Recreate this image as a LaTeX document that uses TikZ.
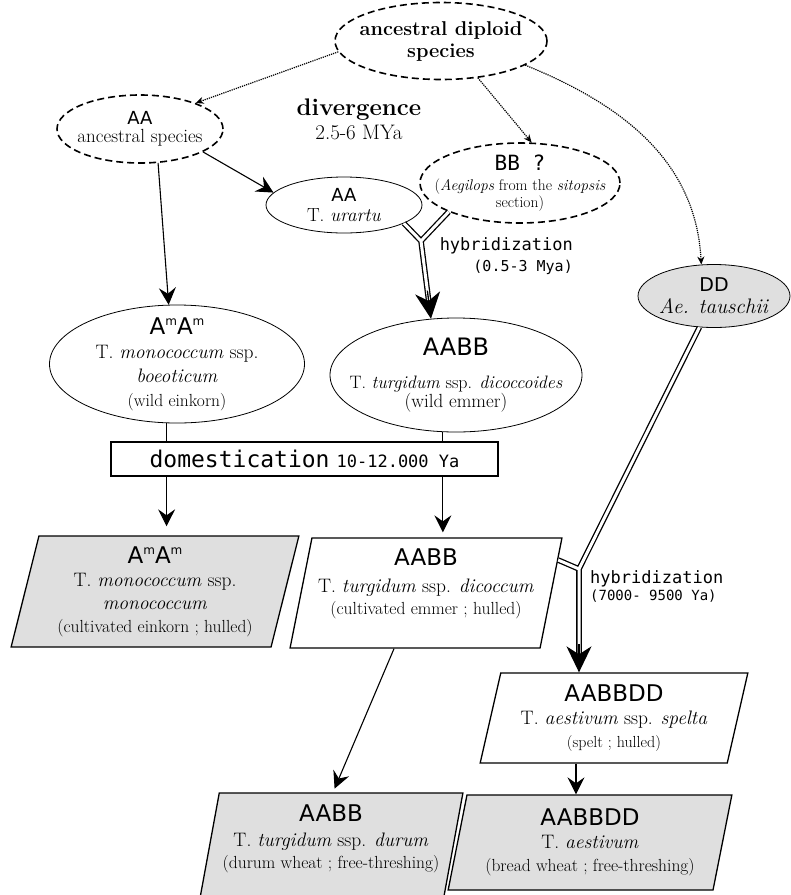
\documentclass[tikz,border=0pt]{standalone}
\usepackage{fontspec}
\newfontfamily\gsans{DejaVu Sans}
\newfontfamily\gmono{DejaVu Sans Mono}
\usetikzlibrary{positioning,shapes.geometric,arrows.meta,backgrounds}

\newcommand{\genome}[2][23]{{\gsans\fontsize{#1}{#1}\selectfont #2}}
\newcommand{\Am}{A\raisebox{9pt}{\fontsize{12}{12}\selectfont m}}
\newcommand{\habit}[2][17.5]{{\fontsize{#1}{#1}\selectfont #2}}

\tikzstyle{ancsp}    = [ellipse, draw, line width=1.6pt, dash pattern=on 7pt off 4pt,
                        align=center, inner xsep=-30pt, inner ysep=-12pt]
\tikzstyle{wildsp}   = [ellipse, draw, line width=0.8pt, align=center,
                        inner xsep=-40pt, inner ysep=-14pt]
\tikzstyle{crop}     = [trapezium, trapezium stretches=true, draw, line width=1.3pt,
                        align=center, inner xsep=-40pt, inner ysep=-25pt]
\tikzstyle{lean}     = [trapezium left angle=71, trapezium right angle=109]
\tikzstyle{tilt}     = [trapezium left angle=60, trapezium right angle=120]
\tikzstyle{descent}  = [line width=1.1pt, -{Stealth[length=17pt,width=17pt,inset=6pt]}]
\tikzstyle{origin}   = [line width=1.2pt, densely dotted, -{Stealth[length=8pt,width=7pt]}]
\tikzstyle{hybrid}   = [line width=1.3pt, double, double distance=3pt]
\tikzstyle{hybhead}  = [line width=1.3pt, -{Stealth[length=26pt,width=25pt,inset=8pt]}]
\tikzstyle{hyblabel} = [inner sep=0pt, font=\gmono\fontsize{17}{21}\selectfont]

\begin{document}
\begin{tikzpicture}[x=1pt, y=-1pt]
  \useasboundingbox (0,0) rectangle (791,895);
  \clip (0,0) rectangle (791,895);

  \node[ancsp, minimum width=212pt, minimum height=77pt,
        font=\bfseries\fontsize{20}{22}\selectfont] (diploid) at (441,41) {ancestral diploid\\species};
  \node[align=center, font=\fontsize{21}{24}\selectfont] (diverg) at (359,119)
        {{\bfseries\fontsize{24}{24}\selectfont divergence}\\2.5-6 MYa};

  \node[ancsp, minimum width=166pt, minimum height=68pt,
        font=\fontsize{19}{18}\selectfont] (ancA) at (140,129) {\genome[18]{AA}\\ancestral species};
  \node[wildsp, minimum width=156pt, minimum height=56pt,
        font=\fontsize{19}{20}\selectfont] (urartu) at (344,205) {\genome[18]{AA}\\T. \textit{urartu}};
  \node[ancsp, minimum width=200pt, minimum height=80pt,
        font=\fontsize{15.5}{17}\selectfont] (bgenome) at (520,183)
        {{\gmono\fontsize{21}{21}\selectfont BB ?}\\[3pt](\textit{Aegilops} from the \textit{sitopsis}\\section)};
  \node[wildsp, fill=gray!25, minimum width=152pt, minimum height=63pt,
        font=\fontsize{21}{22}\selectfont] (tauschii) at (714,296) {\genome[19]{DD}\\\textit{Ae. tauschii}};

  \node[wildsp, minimum width=255pt, minimum height=118pt,
        font=\fontsize{19.5}{24}\selectfont] (einkW) at (177,364)
        {\genome{\Am\Am}\\T. \textit{monococcum} ssp.\\\textit{boeoticum}\\\habit{(wild einkorn)}};
  \node[wildsp, minimum width=252pt, minimum height=114pt,
        font=\fontsize{18}{19}\selectfont] (emmerW) at (456,375)
        {\genome[24]{AABB}\\[14pt]T. \textit{turgidum} ssp. \textit{dicoccoides}\\\habit[19]{(wild emmer)}};

  \node[crop, lean, fill=gray!25, minimum width=288pt, minimum height=111pt,
        font=\fontsize{19.5}{23}\selectfont] (einkC) at (155,591.5)
        {\genome{\Am\Am}\\T. \textit{monococcum} ssp.\\\textit{monococcum}\\\habit{(cultivated einkorn ; hulled)}};
  \node[crop, lean, minimum width=272pt, minimum height=110pt,
        font=\fontsize{19.5}{22}\selectfont] (emmerC) at (426,593)
        {\genome{AABB}\\[5pt]T. \textit{turgidum} ssp. \textit{dicoccum}\\\habit{(cultivated emmer ; hulled)}\\\mbox{}};
  \node[crop, tilt, minimum width=268pt, minimum height=90pt,
        font=\fontsize{19.5}{23}\selectfont] (speltC) at (614,718)
        {\genome{AABBDD}\\T. \textit{aestivum} ssp. \textit{spelta}\\\habit[16]{(spelt ; hulled)}};
  \node[crop, tilt, fill=gray!25, minimum width=284pt, minimum height=95pt,
        font=\fontsize{19.5}{23}\selectfont] (aestC) at (590,842.5)
        {\genome{AABBDD}\\T. \textit{aestivum}\\\habit{(bread wheat ; free-threshing)}};
  \node[crop, lean, fill=gray!25, minimum width=264pt, minimum height=110pt,
        font=\fontsize{19.5}{22}\selectfont] (durumC) at (331,848)
        {\genome{AABB}\\[3pt]T. \textit{turgidum} ssp. \textit{durum}\\\habit{(durum wheat ; free-threshing)}\\\mbox{}};

  \draw[origin] (diploid.186) -- (ancA.25);
  \draw[origin] (diploid.-45) -- (bgenome.74);
  \draw[origin] (diploid.-16) to[out=-22, in=93] (tauschii.112);

  \draw[descent] (ancA.-62) -- (einkW.98);
  \draw[descent] (ancA.-20) -- (urartu.170);

  \begin{scope}[on background layer]
    \draw[descent, shorten >=9pt] (einkW.-100) -- (einkW.-100 |- einkC.north);
    \draw[descent, shorten >=5pt] (emmerW.-103) -- (emmerW.-103 |- emmerC.north);
  \end{scope}
  \node[draw, fill=white, line width=1.5pt, minimum width=387pt, minimum height=34pt,
        inner sep=0pt] (domest) at (304.5,459)
        {{\gmono\fontsize{23}{23}\selectfont domestication}\hspace{7pt}{\gmono\fontsize{17}{17}\selectfont 10-12.000 Ya}};

  \draw[descent, shorten >=4pt] ([xshift=-32pt]emmerC.south) -- ([xshift=2pt]durumC.north);
  \draw[descent] ([xshift=-38pt]speltC.south) -- ([xshift=-38pt]speltC.south |- aestC.north);

  \coordinate (hybA) at (421,241);
  \draw[hybrid, shorten >=12pt] (bgenome.202) -- (hybA) (urartu.-17) -- (hybA) -- (emmerW.114);
  \draw[hybhead, shorten <=50pt] (hybA) -- (emmerW.114);
  \node[hyblabel, anchor=east, align=right] (hybtxtA) at (573,256)
        {hybridization\\\habit[15]{(0.5-3 Mya)}};

  \coordinate (hybB) at (579,569);
  \draw[hybrid, shorten >=14pt] (emmerC.14) -- (hybB) (tauschii.-115) -- (hybB) -- (hybB |- speltC.north);
  \draw[hybhead, shorten <=75pt] (hybB) -- (hybB |- speltC.north);
  \node[hyblabel, anchor=west, align=left, font=\gmono\fontsize{17}{17}\selectfont] (hybtxtB) at (590,586)
        {hybridization\\\habit[14]{(7000- 9500 Ya)}};
\end{tikzpicture}
\end{document}
